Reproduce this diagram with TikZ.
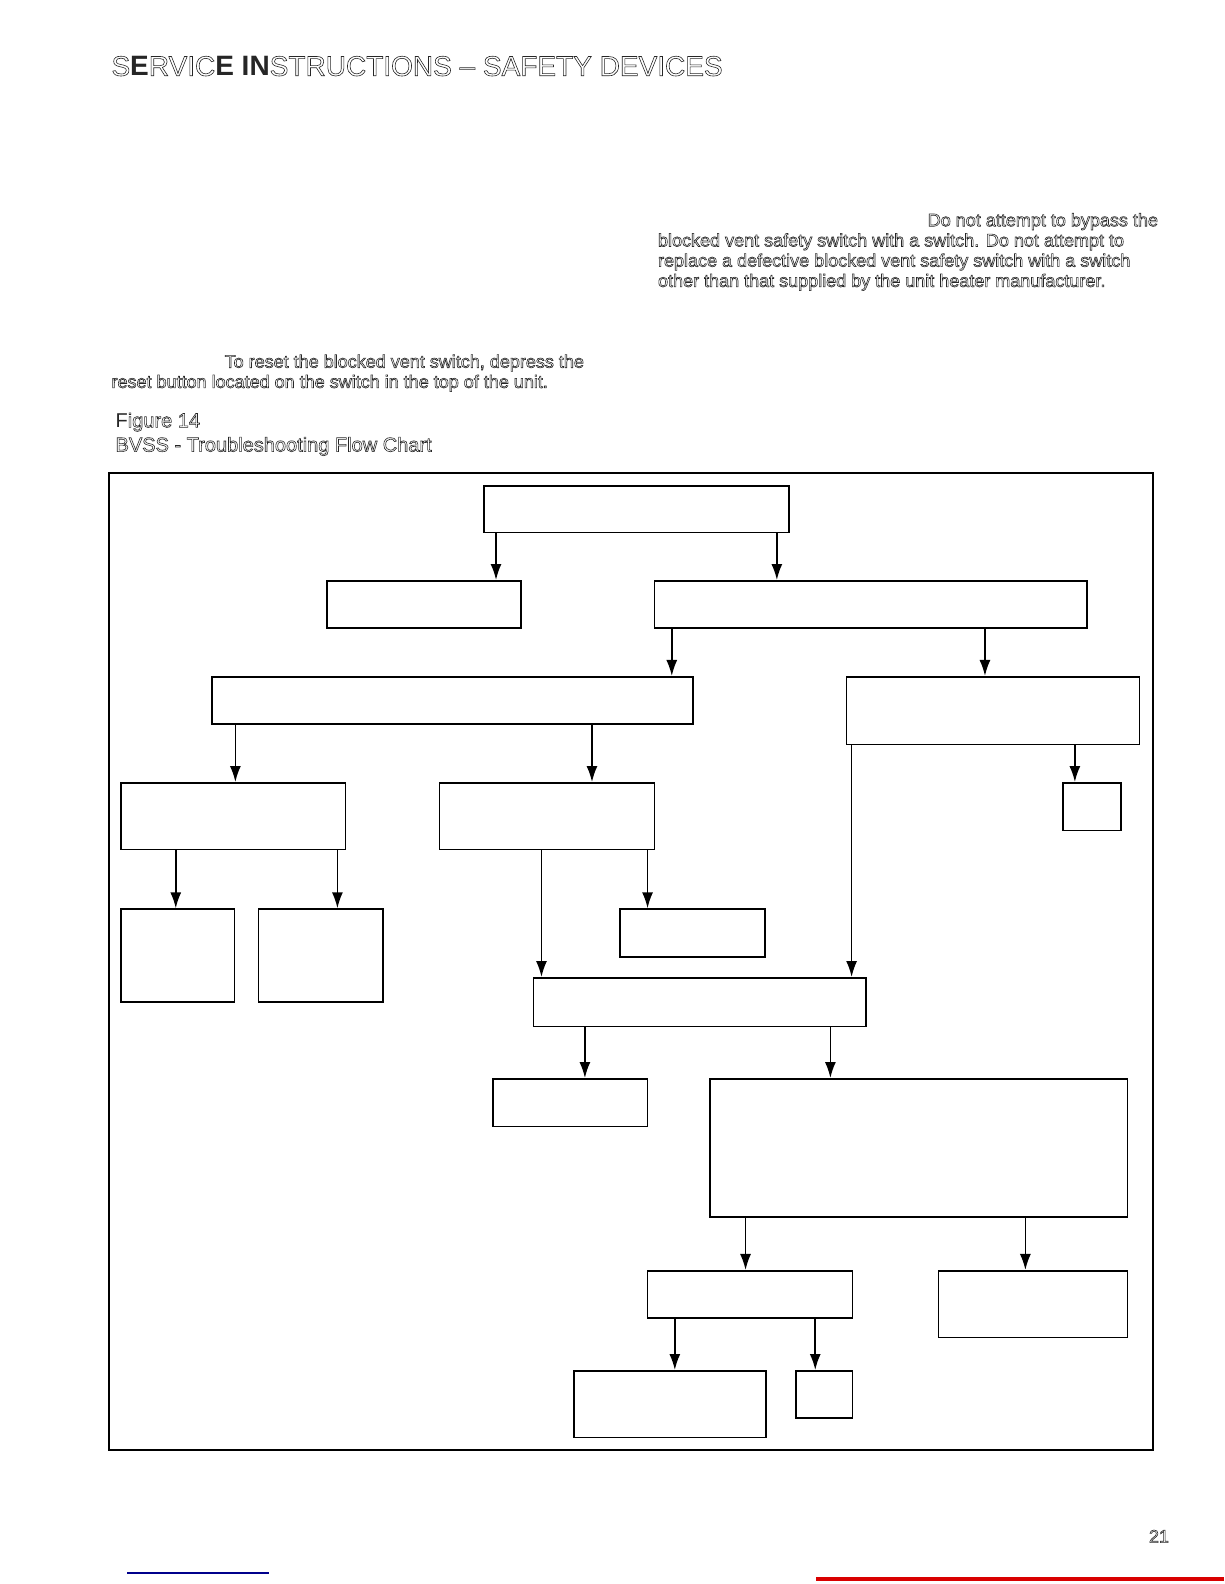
\documentclass[tikz,border=0pt]{standalone}
\usepackage{fontspec}
\setmainfont{Liberation Sans}
\usetikzlibrary{arrows.meta,fit}

% hollow (outlined) lettering as in the scanned page
\newcommand{\olon}{\special{pdf:literal direct 1 Tr 0.3 w}}
\newcommand{\oloff}{\special{pdf:literal direct 0 Tr}}

\begin{document}
\begin{tikzpicture}[
    x=0.50495pt, y=-0.50495pt,
    >={Latex[length=8pt,width=5.5pt]},
    fcbox/.style={draw, line width=0.85pt, inner sep=0pt},
    arr/.style={->, line width=0.85pt},
    txt/.style={anchor=base west, inner sep=0pt, text=black!85,
        font=\fontsize{9}{10}\selectfont},
    figtxt/.style={txt, font=\fontsize{10}{12}\selectfont}
]
\useasboundingbox (0,0) rectangle (1212,1568);

% ----------------------------------------------------------
% Kopf und Text
% ----------------------------------------------------------
\node[txt, font=\fontsize{14}{16}\selectfont] (title) at (110,75)
    {\olon S\oloff\textbf{E}\olon RVIC\oloff\textbf{E IN}\olon STRUCTIONS -- SAFETY DEVICES\oloff};

\node[txt] (w1) at (918,224) {\olon Do not attempt to bypass the\oloff};
\node[txt] (w2) at (651,244) {\olon blocked vent safety switch with a switch. Do not attempt to\oloff};
\node[txt] (w3) at (651,264) {\olon replace a defective blocked vent safety switch with a switch\oloff};
\node[txt] (w4) at (651,284) {\olon other than that supplied by the unit heater manufacturer.\oloff};

\node[txt] (r1) at (222,364) {\olon To reset the blocked vent switch, depress the\oloff};
\node[txt] (r2) at (110,384) {\olon reset button located on the switch in the top of the unit.\oloff};

\node[figtxt] (fig) at (114,423) {F\olon igure 14\oloff};
\node[figtxt] (figt) at (114,447) {\olon BVSS - Troubleshooting Flow Chart\oloff};

\node[txt] (pg) at (1137,1527) {\olon 21\oloff};

% ----------------------------------------------------------
% Rahmen des Flussdiagramms
% ----------------------------------------------------------
\draw[line width=1.1pt] (108,468) rectangle (1141,1435);

% Zeile 1 und 2
\node[fcbox, fit={(479,481) (781,527)}] (f1) {};
\node[fcbox, fit={(324,575) (516,622)}] (f2) {};
\node[fcbox, fit={(648,575) (1076,622)}] (f3) {};

% Zeile 3
\node[fcbox, fit={(210,670) (686,717)}] (f4) {};
\node[fcbox, fit={(838,670) (1128,737)}] (f5) {};

% Zeile 4
\node[fcbox, fit={(120,775) (342,841)}] (f6) {};
\node[fcbox, fit={(435,775) (648,841)}] (f7) {};
\node[fcbox, fit={(1052,775) (1110,822)}] (f8) {};

% Zeile 5
\node[fcbox, fit={(120,900) (232,992)}] (f9) {};
\node[fcbox, fit={(256,900) (379,992)}] (f10) {};
\node[fcbox, fit={(614,900) (757,947)}] (f11) {};
\node[fcbox, fit={(528,968) (857,1016)}] (f12) {};

% Zeile 6 und 7
\node[fcbox, fit={(488,1068) (641,1115)}] (f13) {};
\node[fcbox, fit={(703,1068) (1116,1205)}] (f14) {};
\node[fcbox, fit={(641,1258) (844,1305)}] (f15) {};
\node[fcbox, fit={(929,1258) (1116,1324)}] (f16) {};

% Zeile 8
\node[fcbox, fit={(568,1357) (758,1423)}] (f17) {};
\node[fcbox, fit={(788,1357) (844,1404)}] (f18) {};

% Pfeile
\draw[arr] (491,0 |- f1.south) -- (491,0 |- f2.north);
\draw[arr] (769,0 |- f1.south) -- (769,0 |- f3.north);
\draw[arr] (665,0 |- f3.south) -- (665,0 |- f4.north);
\draw[arr] (975,0 |- f3.south) -- (975,0 |- f5.north);
\draw[arr] (233,0 |- f4.south) -- (233,0 |- f6.north);
\draw[arr] (586,0 |- f4.south) -- (586,0 |- f7.north);
\draw[arr] (843,0 |- f5.south) -- (843,0 |- f12.north);
\draw[arr] (1064,0 |- f5.south) -- (1064,0 |- f8.north);
\draw[arr] (174,0 |- f6.south) -- (174,0 |- f9.north);
\draw[arr] (334,0 |- f6.south) -- (334,0 |- f10.north);
\draw[arr] (536,0 |- f7.south) -- (536,0 |- f12.north);
\draw[arr] (641,0 |- f7.south) -- (641,0 |- f11.north);
\draw[arr] (579,0 |- f12.south) -- (579,0 |- f13.north);
\draw[arr] (822,0 |- f12.south) -- (822,0 |- f14.north);
\draw[arr] (738,0 |- f14.south) -- (738,0 |- f15.north);
\draw[arr] (1015,0 |- f14.south) -- (1015,0 |- f16.north);
\draw[arr] (668,0 |- f15.south) -- (668,0 |- f17.north);
\draw[arr] (807,0 |- f15.south) -- (807,0 |- f18.north);

% Fusszeile
\draw[line width=1pt, blue!55!black] (126,1557) -- (266,1557);
\draw[line width=1.6pt, red!85!black] (808,1563) -- (1212,1563);

\end{tikzpicture}
\end{document}
